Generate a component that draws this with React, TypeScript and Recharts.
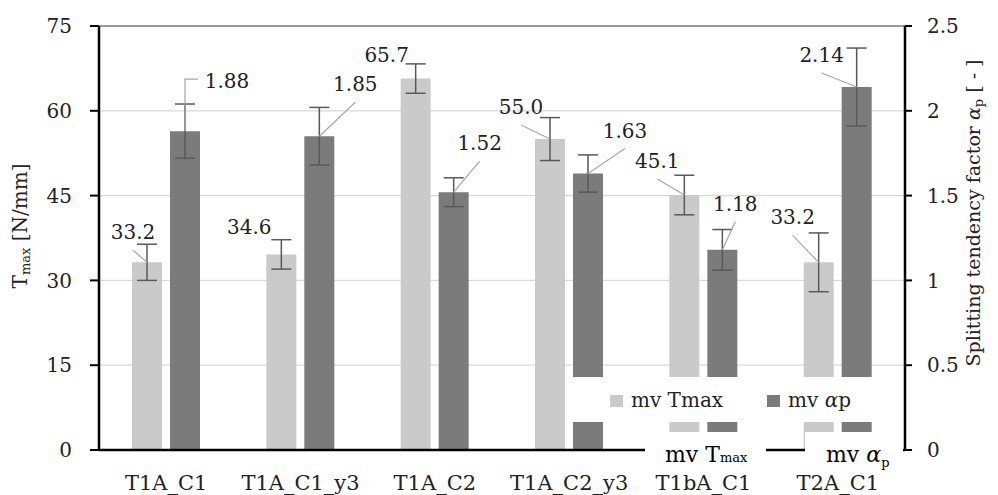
import React from 'react';
import {
  BarChart,
  Bar,
  XAxis,
  YAxis,
  CartesianGrid,
  ErrorBar,
  LabelList,
  Legend,
  ReferenceLine,
  Label,
} from 'recharts';

const categories = ['T1A_C1', 'T1A_C1_y3', 'T1A_C2', 'T1A_C2_y3', 'T1bA_C1', 'T2A_C1'];
const tmaxValues = [33.2, 34.6, 65.7, 55.0, 45.1, 33.2];
const tmaxErrors = [3.2, 2.6, 2.6, 3.8, 3.5, 5.2];
const alphaValues = [1.88, 1.85, 1.52, 1.63, 1.18, 2.14];
const alphaErrors = [0.16, 0.17, 0.085, 0.11, 0.12, 0.23];
const leftTicks = [0, 15, 30, 45, 60, 75];
const rightTicks = [0, 0.5, 1, 1.5, 2, 2.5];

// where each value label sits, relative to the top of its bar: [dx, dy, leader]
const tmaxLabelPos: [number, number, string][] = [
  [-14, -30, 'line'],
  [-32, -27, 'none'],
  [-29, -24, 'none'],
  [-29, -32, 'line'],
  [-27, -34, 'line'],
  [-26, -45, 'line'],
];
const alphaLabelPos: [number, number, string][] = [
  [42, -50, 'elbow'],
  [36, -52, 'line'],
  [26, -49, 'line'],
  [37, -43, 'line'],
  [13, -46, 'line'],
  [-35, -32, 'line'],
];

const data = categories.map((name, i) => ({
  name,
  tmax: tmaxValues[i],
  tmaxErr: tmaxErrors[i],
  alpha: alphaValues[i],
  alphaErr: alphaErrors[i],
}));

const FONT = '"DejaVu Serif", "Noto Serif", "Liberation Serif", serif';
const LIGHT = '#cacaca';
const DARK = '#7b7b7b';
const TEXT = '#222';
const LEADER = '#a6a6a6';

const makeLabel = (pos: [number, number, string][], digits: number) => (props: any) => {
  const { x, y, width, index, value } = props;
  const [dx, dy, kind] = pos[index];
  const cx = Number(x) + Number(width) / 2;
  const top = Number(y);
  const tx = cx + dx;
  const ty = top + dy;
  let leader = null;
  if (kind === 'line') {
    leader = <line x1={tx} y1={ty + 18} x2={cx} y2={top} stroke={LEADER} strokeWidth={1.2} />;
  } else if (kind === 'elbow') {
    leader = (
      <polyline
        points={`${tx - 29},${ty - 2} ${cx},${ty - 2} ${cx},${top}`}
        fill="none"
        stroke={LEADER}
        strokeWidth={1.2}
      />
    );
  }
  return (
    <g>
      {leader}
      <text
        x={tx}
        y={ty}
        dy="0.35em"
        textAnchor="middle"
        fontFamily={FONT}
        fontSize={20}
        fill={TEXT}
      >
        {Number(value).toFixed(digits)}
      </text>
    </g>
  );
};

const leftTitle = (props: any) => {
  const vb = props.viewBox;
  const x = vb.x + 20;
  const y = vb.y + vb.height / 2 - 12;
  return (
    <text
      x={x}
      y={y}
      transform={`rotate(-90, ${x}, ${y})`}
      textAnchor="middle"
      dominantBaseline="central"
      fontFamily={FONT}
      fontSize={20}
      fill={TEXT}
    >
      T<tspan fontSize={13} dy={5}>max</tspan>
      <tspan dy={-5}> [N/mm]</tspan>
    </text>
  );
};

const rightTitle = (props: any) => {
  const vb = props.viewBox;
  const x = vb.x + 68;
  const y = vb.y + vb.height / 2 - 25;
  return (
    <text
      x={x}
      y={y}
      transform={`rotate(-90, ${x}, ${y})`}
      textAnchor="middle"
      dominantBaseline="central"
      fontFamily={FONT}
      fontSize={19}
      fill={TEXT}
    >
      Splitting tendency factor <tspan fontStyle="italic">α</tspan>
      <tspan fontSize={13} dy={5}>p</tspan>
      <tspan dy={-5}> [ - ]</tspan>
    </text>
  );
};

const legendName = (name: string) =>
  name.includes('α') ? (
    <>
      mv <i>α</i>p
    </>
  ) : (
    name
  );

const renderLegend = (props: any) => {
  const items = props.payload || [];
  const lefts = [38, 195];
  return (
    <div style={{ position: 'relative', width: '100%', height: '100%', fontFamily: FONT, fontSize: 20, color: TEXT }}>
      {items.map((item: any, i: number) => (
        <React.Fragment key={item.value}>
          <span
            style={{
              position: 'absolute',
              left: lefts[i],
              top: 18,
              width: 13,
              height: 12,
              background: item.color,
            }}
          />
          <span style={{ position: 'absolute', left: lefts[i] + 21, top: 13, lineHeight: '20px', whiteSpace: 'nowrap' }}>
            {legendName(item.value)}
          </span>
        </React.Fragment>
      ))}
    </div>
  );
};

export default function App() {
  return (
    <div style={{ position: 'absolute', left: 0, top: 0, width: 998, height: 495, background: '#fff' }}>
      <BarChart
        width={998}
        height={495}
        data={data}
        margin={{ top: 26, right: 0, left: 0, bottom: 0 }}
        barSize={30}
        barGap={8}
      >
        <CartesianGrid yAxisId="left" vertical={false} stroke="#d9d9d9" strokeWidth={1.2} />
        <XAxis
          dataKey="name"
          height={45}
          tickLine={false}
          tickSize={0}
          tickMargin={25}
          axisLine={{ stroke: '#000', strokeWidth: 2.5 }}
          tick={{ fill: TEXT, fontSize: 21, fontFamily: FONT }}
          interval={0}
        />
        <YAxis
          yAxisId="left"
          width={99}
          domain={[0, 75]}
          ticks={leftTicks}
          tickSize={9}
          tickMargin={18}
          axisLine={{ stroke: '#000', strokeWidth: 2.5 }}
          tickLine={{ stroke: '#000', strokeWidth: 2 }}
          tick={{ fill: TEXT, fontSize: 20, fontFamily: FONT }}
        >
          <Label content={leftTitle} />
        </YAxis>
        <YAxis
          yAxisId="right"
          orientation="right"
          width={93}
          domain={[0, 2.5]}
          ticks={rightTicks}
          tickSize={7}
          tickMargin={15}
          axisLine={{ stroke: '#000', strokeWidth: 2.5 }}
          tickLine={{ stroke: '#000', strokeWidth: 2 }}
          tick={{ fill: TEXT, fontSize: 20, fontFamily: FONT }}
        >
          <Label content={rightTitle} />
        </YAxis>
        <ReferenceLine yAxisId="left" y={75} stroke="#7f7f7f" strokeWidth={1.5} />
        <Bar yAxisId="left" dataKey="tmax" name="mv Tmax" fill={LIGHT} isAnimationActive={false}>
          <ErrorBar dataKey="tmaxErr" width={10} stroke="#595959" strokeWidth={1.5} direction="y" />
          <LabelList dataKey="tmax" content={makeLabel(tmaxLabelPos, 1)} />
        </Bar>
        <Bar yAxisId="right" dataKey="alpha" name="mv αp" fill={DARK} isAnimationActive={false}>
          <ErrorBar dataKey="alphaErr" width={10} stroke="#595959" strokeWidth={1.5} direction="y" />
          <LabelList dataKey="alpha" content={makeLabel(alphaLabelPos, 2)} />
        </Bar>
        <Legend
          layout="horizontal"
          align="center"
          verticalAlign="middle"
          content={renderLegend}
          wrapperStyle={{ left: 572, top: 377, width: 331, height: 45, background: '#fff' }}
        />
      </BarChart>
      <div
        style={{
          position: 'absolute',
          left: 645,
          top: 432,
          width: 121,
          height: 38,
          background: '#fff',
          fontFamily: FONT,
          fontSize: 22,
          color: '#000',
          whiteSpace: 'nowrap',
          boxSizing: 'border-box',
          paddingLeft: 20,
          paddingTop: 12,
          lineHeight: '22px',
        }}
      >
        mv T<span style={{ fontSize: 13 }}>max</span>
      </div>
      <div
        style={{
          position: 'absolute',
          left: 805,
          top: 432,
          width: 98,
          height: 38,
          background: '#fff',
          fontFamily: FONT,
          fontSize: 22,
          color: '#000',
          whiteSpace: 'nowrap',
          overflow: 'hidden',
          boxSizing: 'border-box',
          paddingLeft: 21,
          paddingTop: 12,
          lineHeight: '22px',
        }}
      >
        mv <i>α</i>
        <span style={{ fontSize: 13, position: 'relative', top: 5 }}>p</span>
      </div>
    </div>
  );
}
